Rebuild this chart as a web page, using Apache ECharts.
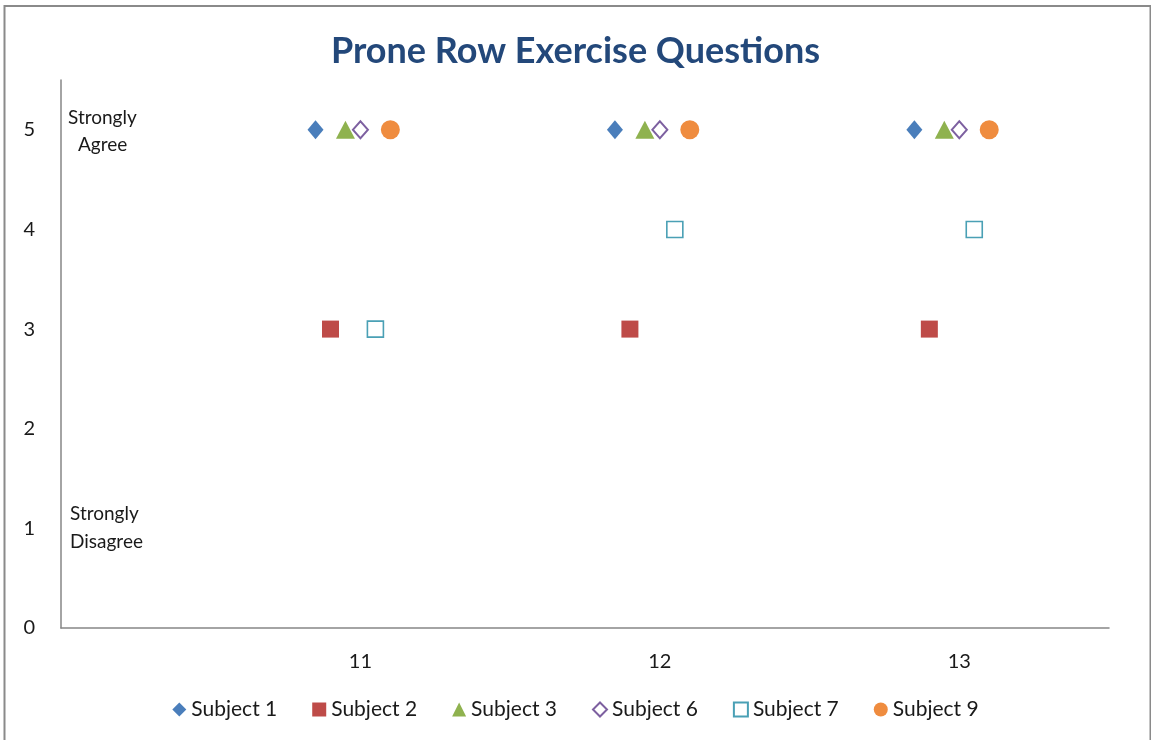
<!DOCTYPE html>
<html>
<head>
<meta charset="utf-8">
<script src="https://cdn.jsdelivr.net/npm/echarts@6/dist/echarts.min.js"></script>
<style>
html,body{margin:0;padding:0;background:#fff;}
#chart{width:1151px;height:740px;}
</style>
</head>
<body>
<div id="chart"></div>
<script>
// Data
const xTickLabels = [11, 12, 13];
const subjects = ['Subject 1', 'Subject 2', 'Subject 3', 'Subject 6', 'Subject 7', 'Subject 9'];
// x positions (question number with small per-subject offset, as plotted) and ratings
const s1x = [10.85, 11.85, 12.85], s1y = [5, 5, 5];
const s2x = [10.90, 11.90, 12.90], s2y = [3, 3, 3];
const s3x = [10.95, 11.95, 12.95], s3y = [5, 5, 5];
const s6x = [11.00, 12.00, 13.00], s6y = [5, 5, 5];
const s7x = [11.05, 12.05, 13.05], s7y = [3, 4, 4];
const s9x = [11.10, 12.10, 13.10], s9y = [5, 5, 5];

const font = 'Lato, "Open Sans", "DejaVu Sans", sans-serif';
const zip = (xs, ys) => xs.map((x, i) => [x, ys[i]]);

const styles = [
  {symbol: 'diamond', size: [16, 19], item: {color: '#4a7ebb', opacity: 1}},
  {symbol: 'rect', size: 17, item: {color: '#be4b48', opacity: 1}},
  {symbol: 'triangle', size: [19, 18], item: {color: '#8fb24f', opacity: 1}},
  {symbol: 'diamond', size: [15, 17], item: {color: '#ffffff', borderColor: '#7d60a0', borderWidth: 2, opacity: 1}},
  {symbol: 'rect', size: 16, item: {color: '#ffffff', borderColor: '#4aa0b5', borderWidth: 1.6, opacity: 1}},
  {symbol: 'circle', size: 19, item: {color: '#ef8c3f', opacity: 1}}
];
const dataSets = [zip(s1x, s1y), zip(s2x, s2y), zip(s3x, s3y), zip(s6x, s6y), zip(s7x, s7y), zip(s9x, s9y)];

const series = subjects.map((name, i) => ({
  name: name,
  type: 'scatter',
  symbol: styles[i].symbol,
  symbolSize: styles[i].size,
  itemStyle: styles[i].item,
  data: dataSets[i],
  z: 3 + i
}));

const chart = echarts.init(document.getElementById('chart'), null, {renderer: 'canvas'});
chart.setOption({
  animation: false,
  backgroundColor: '#ffffff',
  title: {
    text: 'Prone Row Exercise Questions',
    left: 'center',
    top: 28,
    textStyle: {fontFamily: font, fontSize: 36, fontWeight: 'bold', color: '#23487a'}
  },
  grid: {left: 61, right: 42, top: 80, bottom: 112, containLabel: false},
  xAxis: {
    type: 'value',
    min: 10, max: 13.5, interval: 1,
    splitLine: {show: false},
    axisTick: {show: false},
    axisLine: {show: true, onZero: false, lineStyle: {color: '#868686', width: 1.5}},
    axisLabel: {
      margin: 24,
      fontFamily: font, fontSize: 20, color: '#1a1a1a',
      formatter: v => xTickLabels.includes(v) ? String(v) : ''
    }
  },
  yAxis: {
    type: 'value',
    min: 0, max: 5.5, interval: 1,
    splitLine: {show: false},
    axisTick: {show: false},
    axisLine: {show: true, lineStyle: {color: '#868686', width: 1.5}},
    axisLabel: {
      margin: 26,
      fontFamily: font, fontSize: 20, color: '#1a1a1a',
      formatter: v => Number.isInteger(v) ? String(v) : ''
    }
  },
  legend: {
    bottom: 15,
    left: 'center',
    itemWidth: 14,
    itemHeight: 14,
    itemGap: 35,
    textStyle: {fontFamily: font, fontSize: 21, color: '#1a1a1a', padding: [0, 0, 0, 0]},
    data: subjects.map((n, i) => ({name: n, icon: styles[i].symbol}))
  },
  graphic: [
    {type: 'rect', shape: {x: 4.5, y: 6, width: 1146, height: 760}, style: {fill: 'none', stroke: '#8a8a8a', lineWidth: 2}, silent: true},
    {type: 'text', left: 68, top: 108, style: {text: 'Strongly', fontFamily: font, fontSize: 19, fill: '#1a1a1a'}},
    {type: 'text', left: 78, top: 135, style: {text: 'Agree', fontFamily: font, fontSize: 19, fill: '#1a1a1a'}},
    {type: 'text', left: 70, top: 504, style: {text: 'Strongly', fontFamily: font, fontSize: 19, fill: '#1a1a1a'}},
    {type: 'text', left: 70, top: 532, style: {text: 'Disagree', fontFamily: font, fontSize: 19, fill: '#1a1a1a'}}
  ],
  series: series
});
</script>
</body>
</html>
